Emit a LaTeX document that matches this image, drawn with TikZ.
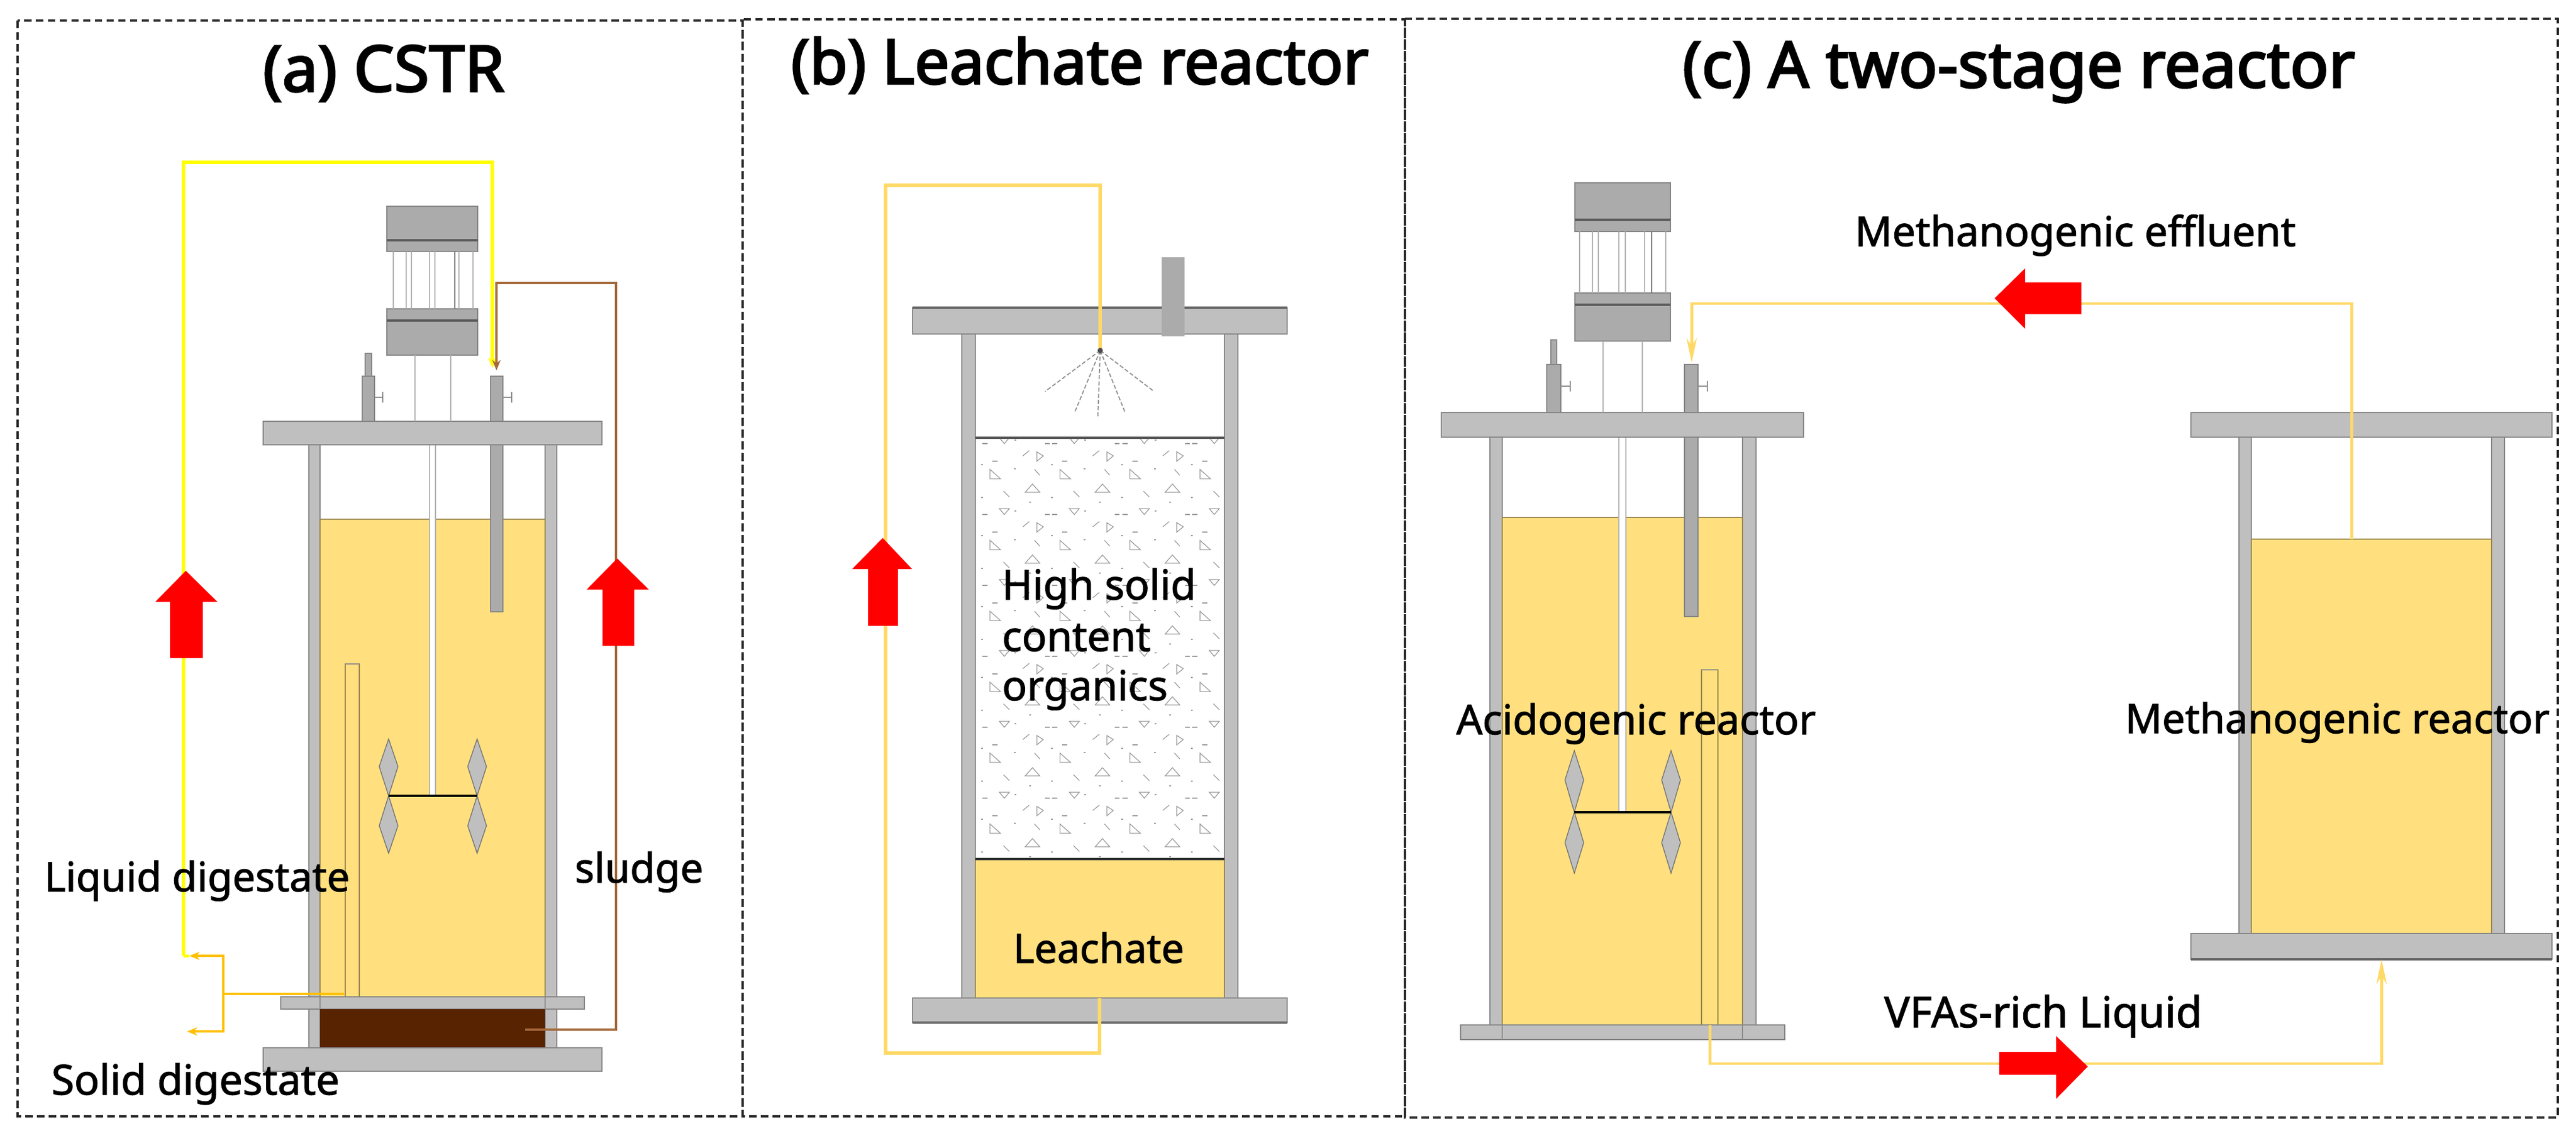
\documentclass[tikz,border=0pt]{standalone}
\usepackage{fontspec}
\setmainfont{Noto Sans}
\newfontfamily\titlefont[FakeBold=3]{Noto Sans}
\newfontfamily\tagfont[FakeBold=1.6]{Noto Sans}
\usetikzlibrary{arrows.meta}
\definecolor{liquidcol}{HTML}{FFDF7E}
\definecolor{platecol}{HTML}{BFBFBF}
\definecolor{portcol}{HTML}{ABABAB}
\definecolor{edgecol}{HTML}{858585}
\definecolor{sludgecol}{HTML}{582300}
\definecolor{yellowcol}{HTML}{FFFF00}
\definecolor{orangecol}{HTML}{FFC000}
\definecolor{browncol}{HTML}{A5693A}
\definecolor{pipecol}{HTML}{FFD966}
\tikzset{
  panel/.style={draw=black!85,line width=1.1pt,dash pattern=on 3.6pt off 2.1pt},
  plate/.style={draw=edgecol,fill=platecol,line width=.8pt},
  port/.style={draw=edgecol,fill=portcol,line width=.8pt},
  liquid/.style={draw=black!40!liquidcol,fill=liquidcol,line width=.4pt},
  rod/.style={draw=black!30,line width=.7pt},
  rule/.style={draw=black!65,line width=1.1pt},
  blade/.style={draw=black!55,fill=platecol,line width=.4pt},
  redarrow/.style={fill=red,draw=none},
  grain/.style={draw=black!40,line width=.35pt},
  title/.style={font=\titlefont\fontsize{#1}{34}\selectfont,anchor=base west,inner sep=0pt},
  tag/.style={font=\tagfont\fontsize{#1}{22}\selectfont,anchor=base west,inner sep=0pt},
  tag/.default=20,
  yellowpipe/.style={draw=yellowcol,line width=1.5pt},
  orangepipe/.style={draw=orangecol,line width=1.2pt},
  brownpipe/.style={draw=browncol,line width=1.3pt},
  leachpipe/.style={draw=pipecol,line width=1.7pt},
  feedpipe/.style={draw=pipecol,line width=1.3pt},
  tip/.style={-{Stealth[length=5pt,width=4pt]}}
}
\begin{document}
\begin{tikzpicture}[scale=0.1]
\useasboundingbox (0,0) rectangle (439.5,-192.9);
\draw [panel] (3,-3.5) rectangle (126.7,-190.5);
\draw [panel] (126.7,-3.3) rectangle (239.7,-190.5);
\draw [panel] (239.7,-3.2) rectangle (436.4,-190.7);
\node [title=31] (titlea) at (44.8,-15.6) {(a) CSTR};
\node [title=30] (titleb) at (134.9,-14.3) {(b) Leachate reactor};
\node [title=31] (titlec) at (287,-14.9) {(c) A two-stage reactor};

% reactor a
\draw [plate] (52.7,-75.9) rectangle (54.6,-178.8);
\draw [plate] (93,-75.9) rectangle (95,-178.8);
\fill [liquid] (54.6,-88.6) rectangle (93,-170.1);
\draw [liquid] (54.6,-88.6) -- (93,-88.6);
\draw [rod,fill=white] (73.3,-75.9) rectangle (74.3,-135.8);
\draw [liquid] (58.9,-113.3) rectangle (61.3,-170.1);
\draw [black!45,line width=.8pt] (58.9,-113.3) -- (61.3,-113.3);
\draw [port] (83.7,-75.9) rectangle (85.8,-104.4);
\draw [plate] (47.9,-170.1) rectangle (99.7,-172.2);
\draw [rule,draw=black!45,line width=.5pt] (54.6,-170.1) -- (54.6,-172.2) (93,-170.1) -- (93,-172.2);
\fill [sludgecol] (54.6,-172.2) rectangle (93,-178.8);
\draw [plate] (44.9,-178.8) rectangle (102.7,-182.8);
\draw [plate] (44.9,-71.9) rectangle (102.7,-75.9);
\draw [blade] (66.3,-126.1) -- (67.9,-130.8) -- (66.3,-135.8) -- (64.7,-130.8) -- cycle;
\draw [blade] (81.4,-126.1) -- (83,-130.8) -- (81.4,-135.8) -- (79.8,-130.8) -- cycle;
\draw [blade] (66.3,-135.8) -- (67.9,-140.9) -- (66.3,-145.6) -- (64.7,-140.9) -- cycle;
\draw [blade] (81.4,-135.8) -- (83,-140.9) -- (81.4,-145.6) -- (79.8,-140.9) -- cycle;
\draw [black,line width=1.1pt] (66.3,-135.8) -- (81.4,-135.8);
\draw [port] (66,-35.2) rectangle (81.5,-42.9);
\draw [port] (66,-52.7) rectangle (81.5,-60.6);
\draw [rule] (66,-41) -- (81.5,-41);
\draw [rule] (66,-54.7) -- (81.5,-54.7);
\foreach \x in {67.1,69.3,70.2,73.3,74.2,78.3,80.7}
  \draw [rod] (\x,-42.9) -- (\x,-52.7);
\draw [rod,draw=black!55] (77.6,-42.9) -- (77.6,-52.7);
\draw [rod] (70.8,-60.6) -- (70.8,-71.9);
\draw [rod] (76.9,-60.6) -- (76.9,-71.9);
\draw [port] (62.3,-60.3) rectangle (63.4,-64.2);
\draw [port] (61.8,-64.2) rectangle (63.9,-71.9);
\draw [port] (83.7,-64.2) rectangle (85.8,-71.9);
\draw [rod,draw=black!45] (63.9,-67.8) -- (65.3,-67.8) (65.3,-66.9) -- (65.3,-68.7);
\draw [rod,draw=black!45] (85.8,-67.8) -- (87.3,-67.8) (87.3,-66.9) -- (87.3,-68.7);

% pipes a
\coordinate (ayellowend) at (84,-62.8);
\coordinate (ayellowtop) at (31.3,-27.7);
\coordinate (ajoin) at (31.3,-163.1);
\coordinate (ajoinend) at (32.3,-163.1);
\coordinate (asplit) at (38.1,-169.6);
\coordinate (asolid) at (31.9,-176);
\coordinate (atube) at (58.7,-169.6);
\coordinate (abrownstart) at (89.6,-175.7);
\coordinate (abrownturn) at (105.1,-48.3);
\coordinate (abrownend) at (84.7,-63.2);
\draw [orangepipe,tip] (atube) -- (asplit) |- (asolid);
\draw [orangepipe,tip] (asplit) |- (ajoinend);
\draw [yellowpipe] (ajoin) -- (ajoinend);
\draw [yellowpipe,tip] (ajoin) -- (ayellowtop) -| (ayellowend);
\draw [brownpipe,tip] (abrownstart) -| (abrownturn) -| (abrownend);
\draw [redarrow] (29,-112.3) -- (29,-102.7) -- (26.5,-102.7) -- (31.7,-97.4) -- (37.1,-102.7) -- (34.6,-102.7) -- (34.6,-112.3) -- cycle;
\draw [redarrow] (102.8,-110.2) -- (102.8,-100.6) -- (100.1,-100.6) -- (105.3,-95.3) -- (110.7,-100.6) -- (108.2,-100.6) -- (108.2,-110.2) -- cycle;
\node [tag=19.7] (liquidlab) at (7.5,-152.1) {Liquid digestate};
\node [tag=19.8] (sludgelab) at (98,-150.6) {sludge};
\node [tag=20.2] (solidlab) at (8.7,-186.8) {Solid digestate};

% reactor b
\draw [plate] (164.1,-57) rectangle (166.4,-170.3);
\draw [plate] (208.9,-57) rectangle (211.2,-170.3);
\begin{scope}
\clip (166.4,-74.7) rectangle (208.9,-146.6);
\foreach \r in {0,...,5} {
  \foreach \c in {0,...,3} {
    \begin{scope}[shift={(166.5+\c*11.94,-74.7-\r*12.1)}]
    \draw [grain] (4,0) -- (5.7,0) -- (4.85,-1) -- cycle;
    \draw [grain] (10.4,-2.4) -- (11.5,-3.1) -- (10.4,-4) -- cycle;
    \draw [grain] (2.4,-5.4) -- (4.2,-7) -- (2.4,-7) -- cycle;
    \draw [grain] (8.4,-9.3) -- (9.65,-7.9) -- (10.9,-9.3) -- cycle;
    \draw [grain] (8,-3.1) -- (9.1,-2.2);
    \draw [grain] (10,-5.4) -- (10.9,-6.4);
    \draw [grain] (4.7,-9.1) -- (5.7,-10.1);
    \draw [grain] (1.1,-1) -- (2,-1) (2.8,-4) -- (3.7,-4) (11.8,-1) -- (12.6,-1);
    \draw [grain] (6.5,-5.3) -- (6.8,-5.3) (0.9,-4.6) -- (1.2,-4.6) (0.9,-10.2) -- (1.2,-10.2) (9.1,-11) -- (9.4,-11) (6.6,-0.4) -- (6.9,-0.4);
    \end{scope}
  }
}
\end{scope}
\draw [rule] (166.4,-74.7) -- (208.9,-74.7);
\fill [liquid] (166.4,-146.6) rectangle (208.9,-170.3);
\draw [black!80,line width=1.2pt] (166.4,-146.6) -- (208.9,-146.6);
\draw [plate] (155.7,-170.3) rectangle (219.6,-174.5);
\draw [black!60,line width=1pt] (155.7,-174.5) -- (219.6,-174.5);
\draw [plate] (155.7,-52.5) rectangle (219.6,-57);
\draw [black!60,line width=1.2pt] (155.7,-52.5) -- (219.6,-52.5);
\fill [portcol] (198.2,-43.9) rectangle (202.1,-57.4);
\coordinate (bnozzle) at (187.7,-59.8);
\foreach \x/\y in {178.3/-66.8,183.3/-70.5,187.3/-71.3,192/-70.5,196.9/-66.8}
  \draw [black!45,line width=.5pt,dash pattern=on 2pt off 1pt] (bnozzle) -- (\x,\y);
\coordinate (bbottom) at (187.6,-170.3);
\coordinate (bcorner) at (151.1,-179.7);
\coordinate (btop) at (151.1,-31.6);
\draw [leachpipe] (bbottom) |- (bcorner) -- (btop) -| (bnozzle);
\fill [black!70] (bnozzle) circle (0.45);
\draw [redarrow] (148.1,-106.8) -- (148.1,-97.1) -- (145.4,-97.1) -- (150.6,-91.8) -- (155.6,-97.1) -- (153.2,-97.1) -- (153.2,-106.8) -- cycle;
\node [tag] (solidlab2) at (170.9,-102.3) {High solid};
\node [tag] (solidlab3) at (170.9,-111.1) {content};
\node [tag] (solidlab4) at (170.9,-119.5) {organics};
\node [tag=19.6] (leachlab) at (172.8,-164.3) {Leachate};

% reactor c, acidogenic
\draw [plate] (254.2,-74.6) rectangle (256.3,-177.4);
\draw [plate] (297.3,-74.6) rectangle (299.6,-177.4);
\fill [liquid] (256.3,-88.3) rectangle (297.3,-174.9);
\draw [liquid] (256.3,-88.3) -- (297.3,-88.3);
\draw [rod,fill=white] (276.2,-74.6) rectangle (277.4,-138.6);
\draw [liquid] (290.3,-114.3) rectangle (293.1,-174.9);
\draw [black!45,line width=.8pt] (290.3,-114.3) -- (293.1,-114.3);
\draw [port] (287.4,-74.6) rectangle (289.7,-105.2);
\draw [plate] (249.2,-174.9) rectangle (304.5,-177.4);
\draw [draw=black!45,line width=.5pt] (256.3,-174.9) -- (256.3,-177.4) (297.3,-174.9) -- (297.3,-177.4);
\draw [plate] (245.9,-70.4) rectangle (307.7,-74.6);
\draw [blade] (268.6,-128.1) -- (270.2,-133.1) -- (268.6,-138.6) -- (267,-133.1) -- cycle;
\draw [blade] (285.1,-128.1) -- (286.7,-133.1) -- (285.1,-138.6) -- (283.5,-133.1) -- cycle;
\draw [blade] (268.6,-138.6) -- (270.2,-143.8) -- (268.6,-149) -- (267,-143.8) -- cycle;
\draw [blade] (285.1,-138.6) -- (286.7,-143.8) -- (285.1,-149) -- (283.5,-143.8) -- cycle;
\draw [black,line width=1.1pt] (268.6,-138.6) -- (285.1,-138.6);
\draw [port] (268.7,-31.2) rectangle (285,-39.5);
\draw [port] (268.7,-50) rectangle (285,-58.2);
\draw [rule] (268.7,-37.5) -- (285,-37.5);
\draw [rule] (268.7,-52) -- (285,-52);
\foreach \x in {269.5,271.7,272.7,276.2,277.3,280.6,284.2}
  \draw [rod] (\x,-39.5) -- (\x,-50);
\draw [rod,draw=black!55] (281.8,-39.5) -- (281.8,-50);
\draw [rod] (273.5,-58.2) -- (273.5,-70.4);
\draw [rod] (280.2,-58.2) -- (280.2,-70.4);
\draw [port] (264.6,-58) rectangle (265.6,-62.2);
\draw [port] (263.9,-62.2) rectangle (266.3,-70.4);
\draw [port] (287.4,-62.2) rectangle (289.7,-70.4);
\draw [rod,draw=black!45] (266.3,-65.9) -- (267.9,-65.9) (267.9,-65) -- (267.9,-66.8);
\draw [rod,draw=black!45] (289.7,-65.9) -- (291.3,-65.9) (291.3,-65) -- (291.3,-66.8);

% reactor c, methanogenic
\draw [plate] (382,-74.6) rectangle (384.1,-159.3);
\draw [plate] (425.1,-74.6) rectangle (427.3,-159.3);
\fill [liquid] (384.1,-92) rectangle (425.1,-159.3);
\draw [liquid] (384.1,-92) -- (425.1,-92);
\draw [plate] (373.8,-159.3) rectangle (435.4,-163.7);
\draw [black!60,line width=1pt] (373.8,-163.7) -- (435.4,-163.7);
\draw [plate] (373.8,-70.4) rectangle (435.4,-74.6);

% pipes c
\coordinate (cliquid) at (401.2,-92);
\coordinate (cturn) at (401.2,-51.8);
\coordinate (cport) at (288.6,-61.9);
\coordinate (cout) at (291.7,-174.9);
\coordinate (cbase) at (406.3,-163.7);
\coordinate (crun) at (406.3,-181.5);
\draw [feedpipe,-{Stealth[length=12pt,width=5pt]}] (cliquid) -- (cturn) -| (cport);
\draw [feedpipe,-{Stealth[length=12pt,width=5pt]}] (cout) |- (crun) -- (cbase);
\draw [redarrow] (355.1,-53.6) -- (345.5,-53.6) -- (345.5,-56.1) -- (340.3,-50.9) -- (345.5,-45.8) -- (345.5,-48.2) -- (355.1,-48.2) -- cycle;
\draw [redarrow] (341.1,-179.5) -- (350.8,-179.5) -- (350.8,-176.8) -- (356.2,-182) -- (350.8,-187.5) -- (350.8,-183.4) -- (341.1,-183.4) -- cycle;
\node [tag] (efflab) at (316.4,-42) {Methanogenic effluent};
\node [tag=19.9] (acidlab) at (248.4,-125.3) {Acidogenic reactor};
\node [tag=19.8] (methlab) at (362.5,-125.1) {Methanogenic reactor};
\node [tag=20.7] (vfalab) at (321.4,-175.3) {VFAs-rich Liquid};
\end{tikzpicture}
\end{document}
